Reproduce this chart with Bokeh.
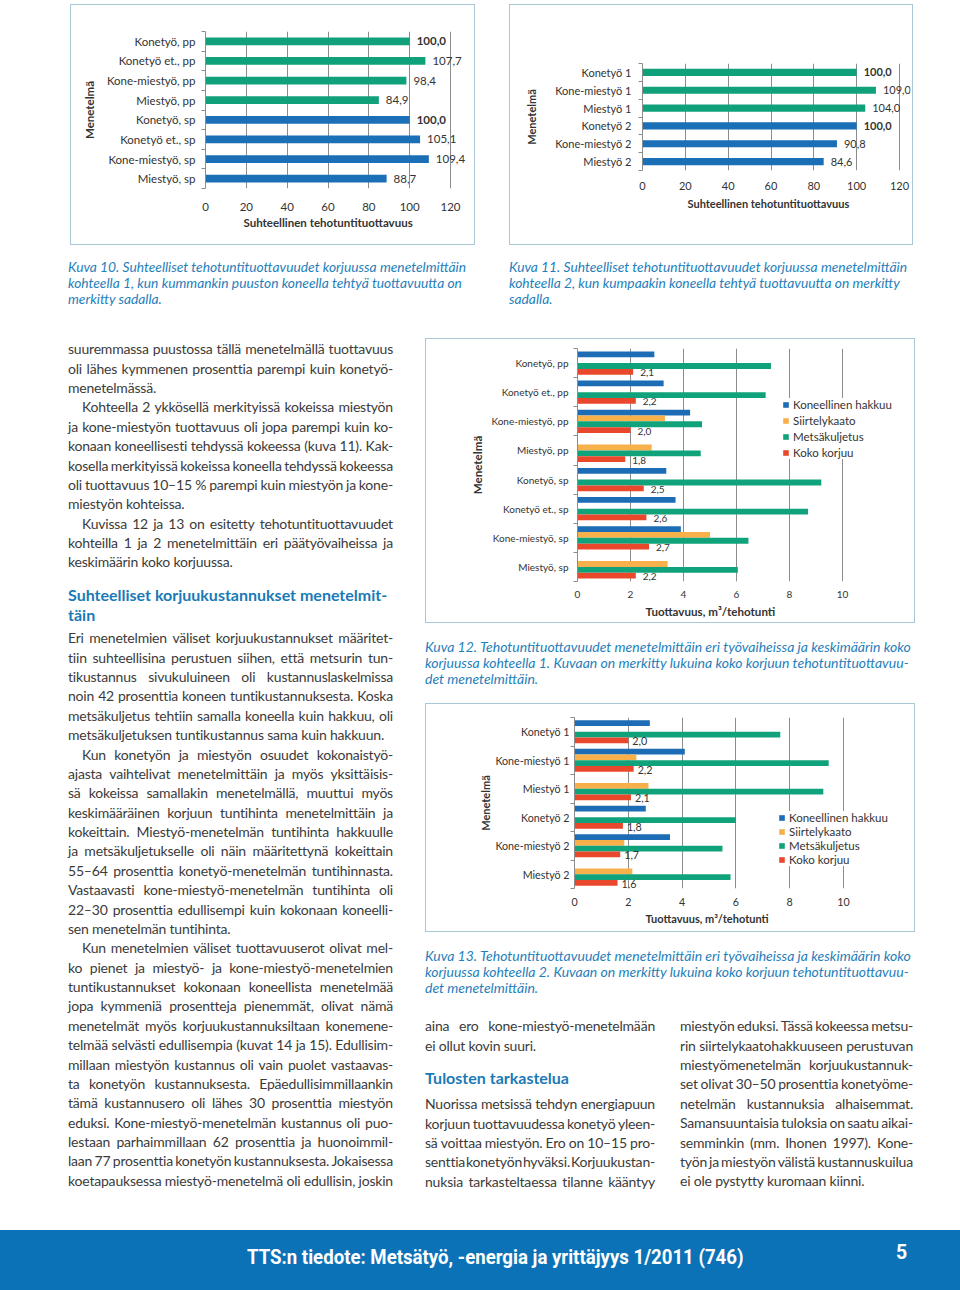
from bokeh.plotting import figure
from bokeh.models import (Range1d, FixedTicker, ColumnDataSource, LabelSet, Legend,
                          LegendItem, Div, Spacer, Title)
from bokeh.layouts import row, column
from bokeh.core.properties import value
from bokeh.embed import file_html
from bokeh.resources import INLINE

# ---------------- data ----------------
k10_methods = ["Konetyö, pp", "Konetyö et., pp", "Kone-miestyö, pp", "Miestyö, pp",
               "Konetyö, sp", "Konetyö et., sp", "Kone-miestyö, sp", "Miestyö, sp"]
k10_values = [100.0, 107.7, 98.4, 84.9, 100.0, 105.1, 109.4, 88.7]
k10_stand = ["pp", "pp", "pp", "pp", "sp", "sp", "sp", "sp"]

k11_methods = ["Konetyö 1", "Kone-miestyö 1", "Miestyö 1",
               "Konetyö 2", "Kone-miestyö 2", "Miestyö 2"]
k11_values = [100.0, 109.0, 104.0, 100.0, 90.8, 84.6]
k11_stand = ["1", "1", "1", "2", "2", "2"]

rel_ticks = [0, 20, 40, 60, 80, 100, 120]
rel_title = "Suhteellinen tehotuntituottavuus"

phases = ["Koneellinen hakkuu", "Siirtelykaato", "Metsäkuljetus", "Koko korjuu"]

k12_methods = k10_methods
k12_hakkuu = [2.9, 3.25, 4.25, None, 3.35, 3.7, 3.9, None]
k12_siirtely = [None, None, 3.3, 2.8, None, None, 5.0, 3.4]
k12_kuljetus = [7.3, 7.1, 4.7, 4.65, 9.2, 8.7, 6.45, 6.05]
k12_koko = [2.1, 2.2, 2.0, 1.8, 2.5, 2.6, 2.7, 2.2]

k13_methods = k11_methods
k13_hakkuu = [2.8, 4.1, None, 2.65, 3.55, None]
k13_siirtely = [None, 2.3, 2.75, None, 1.85, 2.15]
k13_kuljetus = [7.65, 9.45, 9.25, 6.0, 5.5, 5.8]
k13_koko = [2.0, 2.2, 2.1, 1.8, 1.7, 1.6]

prod_ticks = [0, 2, 4, 6, 8, 10]
prod_title = "Tuottavuus, m³/tehotunti"
y_title = "Menetelmä"

# ---------------- styles ----------------
CF = "Lato"
TXT = "#333333"
GRID = "#8c8c8c"
REL_COL = {"pp": "#10a07a", "1": "#10a07a", "sp": "#1b6fb6", "2": "#1b6fb6"}
PROD_COL = ["#1c6db5", "#f7b04a", "#10a27a", "#e9482d"]
BOX = {"outline": "1px solid #a9c7d5", "outline-offset": "-1px",
       "background-color": "white"}


def fmt(v):
    return f"{v:.1f}".replace(".", ",")


def base_fig(methods, W, H, borders, xticks, axis_px, extra_px, xtitle, fs, title_fs,
             tick_sd, title_off, title_sd, ytick_sd, ytitle_sd):
    n = len(methods)
    bl, br, bt, bb = borders
    tmax = xticks[-1]
    view_end = tmax * (axis_px + extra_px) / axis_px
    p = figure(width=W, height=H, x_range=Range1d(0, view_end),
               y_range=Range1d(-0.5, n - 0.5),
               output_backend="svg", toolbar_location=None,
               min_border_left=bl, min_border_right=br, min_border_top=bt,
               min_border_bottom=bb)
    try:
        p.frame_align = False
    except AttributeError:
        pass
    p.title.visible = False
    p.outline_line_color = None
    p.background_fill_color = None
    p.border_fill_color = None
    p.styles = BOX
    p.ygrid.visible = False
    p.xgrid.ticker = FixedTicker(ticks=xticks)
    p.xgrid.grid_line_color = GRID
    p.xgrid.grid_line_width = 1

    centers = [n - 1 - i for i in range(n)]
    yax = p.yaxis[0]
    yax.ticker = FixedTicker(ticks=centers, minor_ticks=[k - 0.5 for k in range(n + 1)])
    yax.major_label_overrides = {c: m for c, m in zip(centers, methods)}
    yax.axis_line_color = GRID
    yax.major_tick_line_color = None
    yax.major_tick_out = 0
    yax.major_tick_in = 0
    yax.minor_tick_line_color = GRID
    yax.minor_tick_out = 4
    yax.minor_tick_in = 0
    yax.major_label_standoff = ytick_sd
    yax.major_label_text_font = CF
    yax.major_label_text_font_size = fs
    yax.major_label_text_color = TXT
    yax.axis_label = y_title
    yax.axis_label_text_font = CF
    yax.axis_label_text_font_style = "bold"
    yax.axis_label_text_font_size = title_fs
    yax.axis_label_text_color = TXT
    yax.axis_label_standoff = ytitle_sd

    xax = p.xaxis[0]
    xax.ticker = FixedTicker(ticks=xticks)
    xax.axis_line_color = None
    xax.major_tick_line_color = None
    xax.minor_tick_line_color = None
    xax.major_tick_out = 0
    xax.major_tick_in = 0
    xax.major_label_standoff = tick_sd
    xax.major_label_text_font = CF
    xax.major_label_text_font_size = fs
    xax.major_label_text_color = TXT

    t = Title(text=xtitle, align="left", offset=title_off, vertical_align="top",
              text_font=CF, text_font_size=title_fs, text_font_style="bold",
              text_color=TXT)
    try:
        t.standoff = title_sd
    except AttributeError:
        pass
    p.add_layout(t, "below")
    return p, centers


def rel_chart(methods, vals, stands, W, H, borders, axis_px, extra_px, fs, tick_sd,
              title_off, title_sd, ytick_sd, ytitle_sd):
    p, centers = base_fig(methods, W, H, borders, rel_ticks, axis_px, extra_px, rel_title,
                          fs, fs, tick_sd, title_off, title_sd, ytick_sd, ytitle_sd)
    src = ColumnDataSource(dict(y=centers, v=vals, c=[REL_COL[s] for s in stands]))
    p.hbar(y="y", right="v", left=0, height=0.4, fill_color="c", line_color=None,
           source=src)
    for style, keep in (("bold", lambda v: v == 100), ("normal", lambda v: v != 100)):
        sel = [i for i, v in enumerate(vals) if keep(v)]
        s = ColumnDataSource(dict(x=[vals[i] for i in sel], y=[centers[i] for i in sel],
                                  t=[fmt(vals[i]) for i in sel]))
        p.add_layout(LabelSet(x="x", y="y", text="t", source=s, x_offset=7,
                              text_baseline="middle", text_font=value(CF),
                              text_font_size=fs, text_font_style=style,
                              text_color=TXT))
    return p


def prod_chart(methods, series, W, H, borders, axis_px, extra_px, fs, title_fs, tick_sd,
               title_off, title_sd, ytick_sd, ytitle_sd, leg_loc, leg_spacing,
               lab_xoff):
    p, centers = base_fig(methods, W, H, borders, prod_ticks, axis_px, extra_px,
                          prod_title, fs, title_fs, tick_sd, title_off, title_sd,
                          ytick_sd, ytitle_sd)
    offsets = [0.3, 0.1, -0.1, -0.3]
    items = []
    for j, (name, vals) in enumerate(zip(phases, series)):
        ys = [c + offsets[j] for c, v in zip(centers, vals) if v is not None]
        xs = [v for v in vals if v is not None]
        r = p.hbar(y=ys, right=xs, left=0, height=0.2, fill_color=PROD_COL[j],
                   line_color=None)
        items.append(LegendItem(label=name, renderers=[r]))
    koko = series[3]
    s = ColumnDataSource(dict(x=koko, y=[c + offsets[3] for c in centers],
                              t=[fmt(v) for v in koko]))
    p.add_layout(LabelSet(x="x", y="y", text="t", source=s, x_offset=lab_xoff,
                          y_offset=-1, text_baseline="middle", text_font=value(CF),
                          text_font_size=fs, text_color=TXT))
    leg = Legend(items=items, location=leg_loc, label_text_font=CF,
                 label_text_font_size="11.5px", label_text_color=TXT, glyph_width=7,
                 glyph_height=7, label_height=12, label_standoff=4,
                 spacing=leg_spacing, padding=2, margin=0, border_line_color=None,
                 background_fill_color="white", background_fill_alpha=1.0)
    p.add_layout(leg)
    return p


fig10 = rel_chart(k10_methods, k10_values, k10_stand, 405, 241, (135, 5, 27, 57),
                  245, 20, "11.5px", 14, 38, 4, 6, 8)
fig11 = rel_chart(k11_methods, k11_values, k11_stand, 404, 241, (133, 3, 59, 75),
                  257, 11, "11px", 11, 45, 8, 7, 14)
fig12 = prod_chart(k12_methods, [k12_hakkuu, k12_siirtely, k12_kuljetus, k12_koko],
                   490, 285, (152, 3, 10, 42), 265, 70, "10px", "11.6px", 9, 68, 8,
                   5, 4, (205, 122), 3, 7)
fig13 = prod_chart(k13_methods, [k13_hakkuu, k13_siirtely, k13_kuljetus, k13_koko],
                   490, 229, (149, 3, 14, 44), 269, 69, "10.7px", "11px", 9, 71, 7,
                   1, 0, (204, 22), 1, 4)

# ---------------- text ----------------
BODY = "font-family:'Lato';font-size:14px;color:#3b3b3b;letter-spacing:-0.2px;"
HEAD = "font-family:'Lato';font-size:16px;font-weight:bold;color:#1a7ab6;"
CAP_A = "font-family:'Lato';font-style:italic;font-size:13.8px;color:#1f80bb;line-height:16px;"
CAP_B = "font-family:'Lato';font-style:italic;font-size:14px;color:#1f80bb;line-height:16px;"
LH = 19.38


def lines_html(paras, width, lh=LH, indent_px=14):
    out = []
    for indent, lines in paras:
        for k, ln in enumerate(lines):
            ind = indent_px if (indent and k == 0) else 0
            last = k == len(lines) - 1
            st = (f"height:{lh}px;line-height:{lh}px;margin-left:{ind}px;"
                  f"width:{width - ind}px;white-space:nowrap;")
            if not last:
                words = [w for w in ln.split(" ") if w]
                inner = "".join(f"<span>{w}</span>" for w in words)
                out.append(f'<div style="{st}display:flex;justify-content:space-between;">{inner}</div>')
            else:
                out.append(f'<div style="{st}">{ln}</div>')
    return "".join(out)


def block(top, left, inner, css):
    return f'<div style="position:absolute;top:{top}px;left:{left}px;{css}">{inner}</div>'


left_a = [
    (False, ["suuremmassa puustossa tällä menetelmällä tuottavuus",
             "oli lähes kymmenen prosenttia parempi kuin konetyö-",
             "menetelmässä."]),
    (True, ["Kohteella 2 ykkösellä merkityissä kokeissa miestyön",
            "ja kone-miestyön tuottavuus oli jopa parempi kuin ko-",
            "konaan koneellisesti tehdyssä kokeessa (kuva 11). Kak-",
            "kosella merkityissä kokeissa koneella tehdyssä kokeessa",
            "oli tuottavuus 10–15\u00a0% parempi kuin miestyön ja kone-",
            "miestyön kohteissa."]),
    (True, ["Kuvissa 12 ja 13 on esitetty tehotuntituottavuudet",
            "kohteilla 1 ja 2 menetelmittäin  eri päätyövaiheissa ja",
            "keskimäärin koko korjuussa."]),
]
left_head = ["Suhteelliset korjuukustannukset menetelmit-", "täin"]
left_b = [
    (False, ["Eri menetelmien väliset korjuukustannukset määritet-",
             "tiin suhteellisina perustuen siihen, että metsurin tun-",
             "tikustannus sivukuluineen oli kustannuslaskelmissa",
             "noin 42 prosenttia koneen tuntikustannuksesta. Koska",
             "metsäkuljetus tehtiin samalla koneella kuin hakkuu, oli",
             "metsäkuljetuksen tuntikustannus sama kuin hakkuun."]),
    (True, ["Kun konetyön ja miestyön osuudet kokonaistyö-",
            "ajasta vaihtelivat menetelmittäin ja myös yksittäisis-",
            "sä kokeissa samallakin menetelmällä, muuttui myös",
            "keskimääräinen korjuun tuntihinta menetelmittäin ja",
            "kokeittain. Miestyö-menetelmän tuntihinta hakkuulle",
            "ja metsäkuljetukselle oli näin määritettynä kokeittain",
            "55–64 prosenttia konetyö-menetelmän tuntihinnasta.",
            "Vastaavasti kone-miestyö-menetelmän tuntihinta oli",
            "22–30 prosenttia edullisempi kuin kokonaan koneelli-",
            "sen menetelmän tuntihinta."]),
    (True, ["Kun menetelmien väliset tuottavuuserot olivat mel-",
            "ko pienet ja miestyö- ja kone-miestyö-menetelmien",
            "tuntikustannukset kokonaan koneellista menetelmää",
            "jopa kymmeniä prosentteja pienemmät, olivat nämä",
            "menetelmät myös korjuukustannuksiltaan konemene-",
            "telmää selvästi edullisempia (kuvat 14 ja 15). Edullisim-",
            "millaan miestyön kustannus oli vain puolet vastaavas-",
            "ta konetyön kustannuksesta. Epäedullisimmillaankin",
            "tämä kustannusero oli lähes 30 prosenttia miestyön",
            "eduksi. Kone-miestyö-menetelmän kustannus oli puo-",
            "lestaan parhaimmillaan 62 prosenttia ja huonoimmil-",
            "laan 77 prosenttia konetyön kustannuksesta. Jokaisessa",
            "koetapauksessa miestyö-menetelmä oli edullisin, joskin",
            ""]),
]
colA_a = [(False, ["aina ero kone-miestyö-menetelmään", "ei ollut kovin suuri."])]
colA_head = "Tulosten tarkastelua"
colA_b = [(False, ["Nuorissa metsissä tehdyn energiapuun",
                   "korjuun tuottavuudessa konetyö yleen-",
                   "sä voittaa miestyön. Ero on 10–15 pro-",
                   "senttia konetyön hyväksi. Korjuukustan-",
                   "nuksia tarkasteltaessa tilanne kääntyy",
                   ""])]
colB = [(False, ["miestyön eduksi. Tässä kokeessa metsu-",
                 "rin siirtelykaatohakkuuseen perustuvan",
                 "miestyömenetelmän korjuukustannuk-",
                 "set olivat 30–50 prosenttia konetyöme-",
                 "netelmän kustannuksia alhaisemmat.",
                 "Samansuuntaisia tuloksia on saatu aikai-",
                 "semminkin (mm. Ihonen 1997). Kone-",
                 "työn ja miestyön välistä kustannuskuilua",
                 "ei ole pystytty kuromaan kiinni."])]

cap10 = ["Kuva 10. Suhteelliset tehotuntituottavuudet korjuussa menetelmittäin",
         "kohteella 1, kun kummankin puuston koneella tehtyä tuottavuutta on",
         "merkitty sadalla."]
cap11 = ["Kuva 11. Suhteelliset tehotuntituottavuudet korjuussa menetelmittäin",
         "kohteella 2, kun kumpaakin koneella tehtyä tuottavuutta on merkitty",
         "sadalla."]
cap12 = ["Kuva 12. Tehotuntituottavuudet menetelmittäin eri työvaiheissa ja keskimäärin koko",
         "korjuussa kohteella 1. Kuvaan on merkitty lukuina koko korjuun tehotuntituottavuu-",
         "det menetelmittäin."]
cap13 = ["Kuva 13. Tehotuntituottavuudet menetelmittäin eri työvaiheissa ja keskimäärin koko",
         "korjuussa kohteella 2. Kuvaan on merkitty lukuina koko korjuun tehotuntituottavuu-",
         "det menetelmittäin."]
footer_text = "TTS:n tiedote: Metsätyö, -energia ja yrittäjyys 1/2011 (746)"
page_no = "5"


def caption_div(lines, width, height, css):
    inner = "<br>".join(lines)
    return Div(text=f'<div style="{css}white-space:nowrap;">{inner}</div>',
               width=width, height=height, margin=0)


left_html = ('<div style="position:relative;width:325px;height:852px;">'
             + block(1.3, 0, lines_html(left_a, 325), BODY)
             + block(247.3, 0, "".join(f'<div style="height:19.4px;line-height:19.4px;white-space:nowrap;">{t}</div>' for t in left_head), HEAD)
             + block(290.3, 0, lines_html(left_b, 325), BODY)
             + '</div>')
left_div = Div(text=left_html, width=325, height=852, margin=0)

bottom_html = ('<div style="position:relative;width:490px;height:174px;">'
               + block(0.3, 0, lines_html(colA_a, 230), BODY)
               + block(52, 0, f'<div style="height:20px;line-height:20px;white-space:nowrap;">{colA_head}</div>', HEAD)
               + block(78.3, 0, lines_html(colA_b, 230), BODY)
               + block(0.3, 255, lines_html(colB, 233), BODY)
               + '</div>')
bottom_div = Div(text=bottom_html, width=490, height=174, margin=0)

FOOT = ("font-family:'Roboto';font-weight:bold;font-size:19.5px;line-height:24px;"
        "color:white;white-space:nowrap;")
footer_html = ('<div style="position:relative;width:960px;height:60px;background:#0b72b7;">'
               f'<div style="position:absolute;left:247px;top:16px;{FOOT}transform:scaleX(0.955);transform-origin:left center;">{footer_text}</div>'
               f'<div style="position:absolute;left:896px;top:11px;{FOOT}">{page_no}</div>'
               '</div>')
footer_div = Div(text=footer_html, width=960, height=60, margin=0)

row_a = row(Spacer(width=70, height=241), column(fig10), Spacer(width=34, height=241),
            column(fig11))
row_b = row(Spacer(width=68, height=79), caption_div(cap10, 410, 79, CAP_A),
            Spacer(width=31, height=79), caption_div(cap11, 410, 79, CAP_A))
right_col = column(column(fig12), Spacer(width=490, height=16),
                   caption_div(cap12, 490, 64, CAP_B),
                   column(fig13), Spacer(width=490, height=16),
                   caption_div(cap13, 490, 68, CAP_B),
                   bottom_div)
row_c = row(Spacer(width=68, height=852), left_div, Spacer(width=32, height=852), right_col)
page = column(Spacer(width=10, height=4), row_a, Spacer(width=10, height=14), row_b, row_c,
              Spacer(width=10, height=40), footer_div)

open("out.html", "w").write(file_html(page, INLINE))
